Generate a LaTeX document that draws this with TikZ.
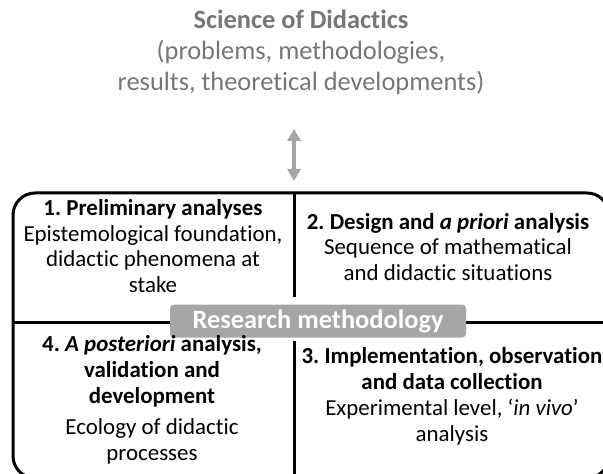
\documentclass[tikz,border=0pt]{standalone}
\usepackage{fontspec}
\setmainfont[Ligatures=NoCommon]{Carlito}
\usetikzlibrary{arrows.meta}
\definecolor{tgray}{HTML}{767676}
\definecolor{agray}{HTML}{A6A6A6}
\frenchspacing
\begin{document}
\begin{tikzpicture}[x=1bp,y=-1bp,
  titletext/.style={align=center, text=tgray, inner sep=0pt, font=\fontsize{26.5}{31}\selectfont},
  body/.style={align=center, inner sep=0pt, font=\fontsize{23}{26}\selectfont},
  frame/.style={line width=3bp, draw=black},
  label/.style={fill=agray, text=white, rounded corners=4bp, inner sep=0pt,
    minimum width=296bp, minimum height=33bp, font=\bfseries\fontsize{26.5}{30}\selectfont},
  biarrow/.style={draw=agray, line width=4.5bp, {Triangle[width=13bp,length=12bp]}-{Triangle[width=13bp,length=12bp]}}]
\useasboundingbox (0,0) rectangle (603,474);
\node[titletext] (title) at (301,52) {\textbf{Science of Didactics}\\(problems, methodologies,\\results, theoretical developments)};
\coordinate (atop) at (294,129);
\coordinate (abot) at (294,181);
\draw[biarrow] (atop) -- (abot);
% frame
\draw[frame, rounded corners=22bp] (13,478) -- (13,193) -- (609,193) -- (609,478) -- cycle;
\coordinate (vt1) at (294,193);
\coordinate (vt2) at (294,297);
\coordinate (vb1) at (294,341);
\coordinate (vb2) at (294,478);
\coordinate (hl) at (13,322);
\coordinate (hr) at (609,322);
\draw[frame] (vt1) -- (vt2);
\draw[frame] (vb1) -- (vb2);
\draw[frame] (hl) -- (hr);
\node[label] (rm) at (318,321) {Research methodology};
% quadrants
\node[body] (q1) at (153,246) {\textbf{1. Preliminary analyses}\\Epistemological foundation,\\didactic phenomena at\\stake};
\node[body] (q2) at (448,247) {\textbf{2. Design and \textit{a priori} analysis}\\Sequence of mathematical\\and didactic situations};
\node[body] (q4) at (152,400) {\textbf{4. \textit{A posteriori} analysis,}\\\textbf{validation and}\\\textbf{development}\\[5bp]Ecology of didactic\\processes};
\node[body] (q3) at (452,396) {\textbf{3. Implementation, observation}\\\textbf{and data collection}\\Experimental level, `\textit{in vivo}'\\analysis};
\end{tikzpicture}
\end{document}
